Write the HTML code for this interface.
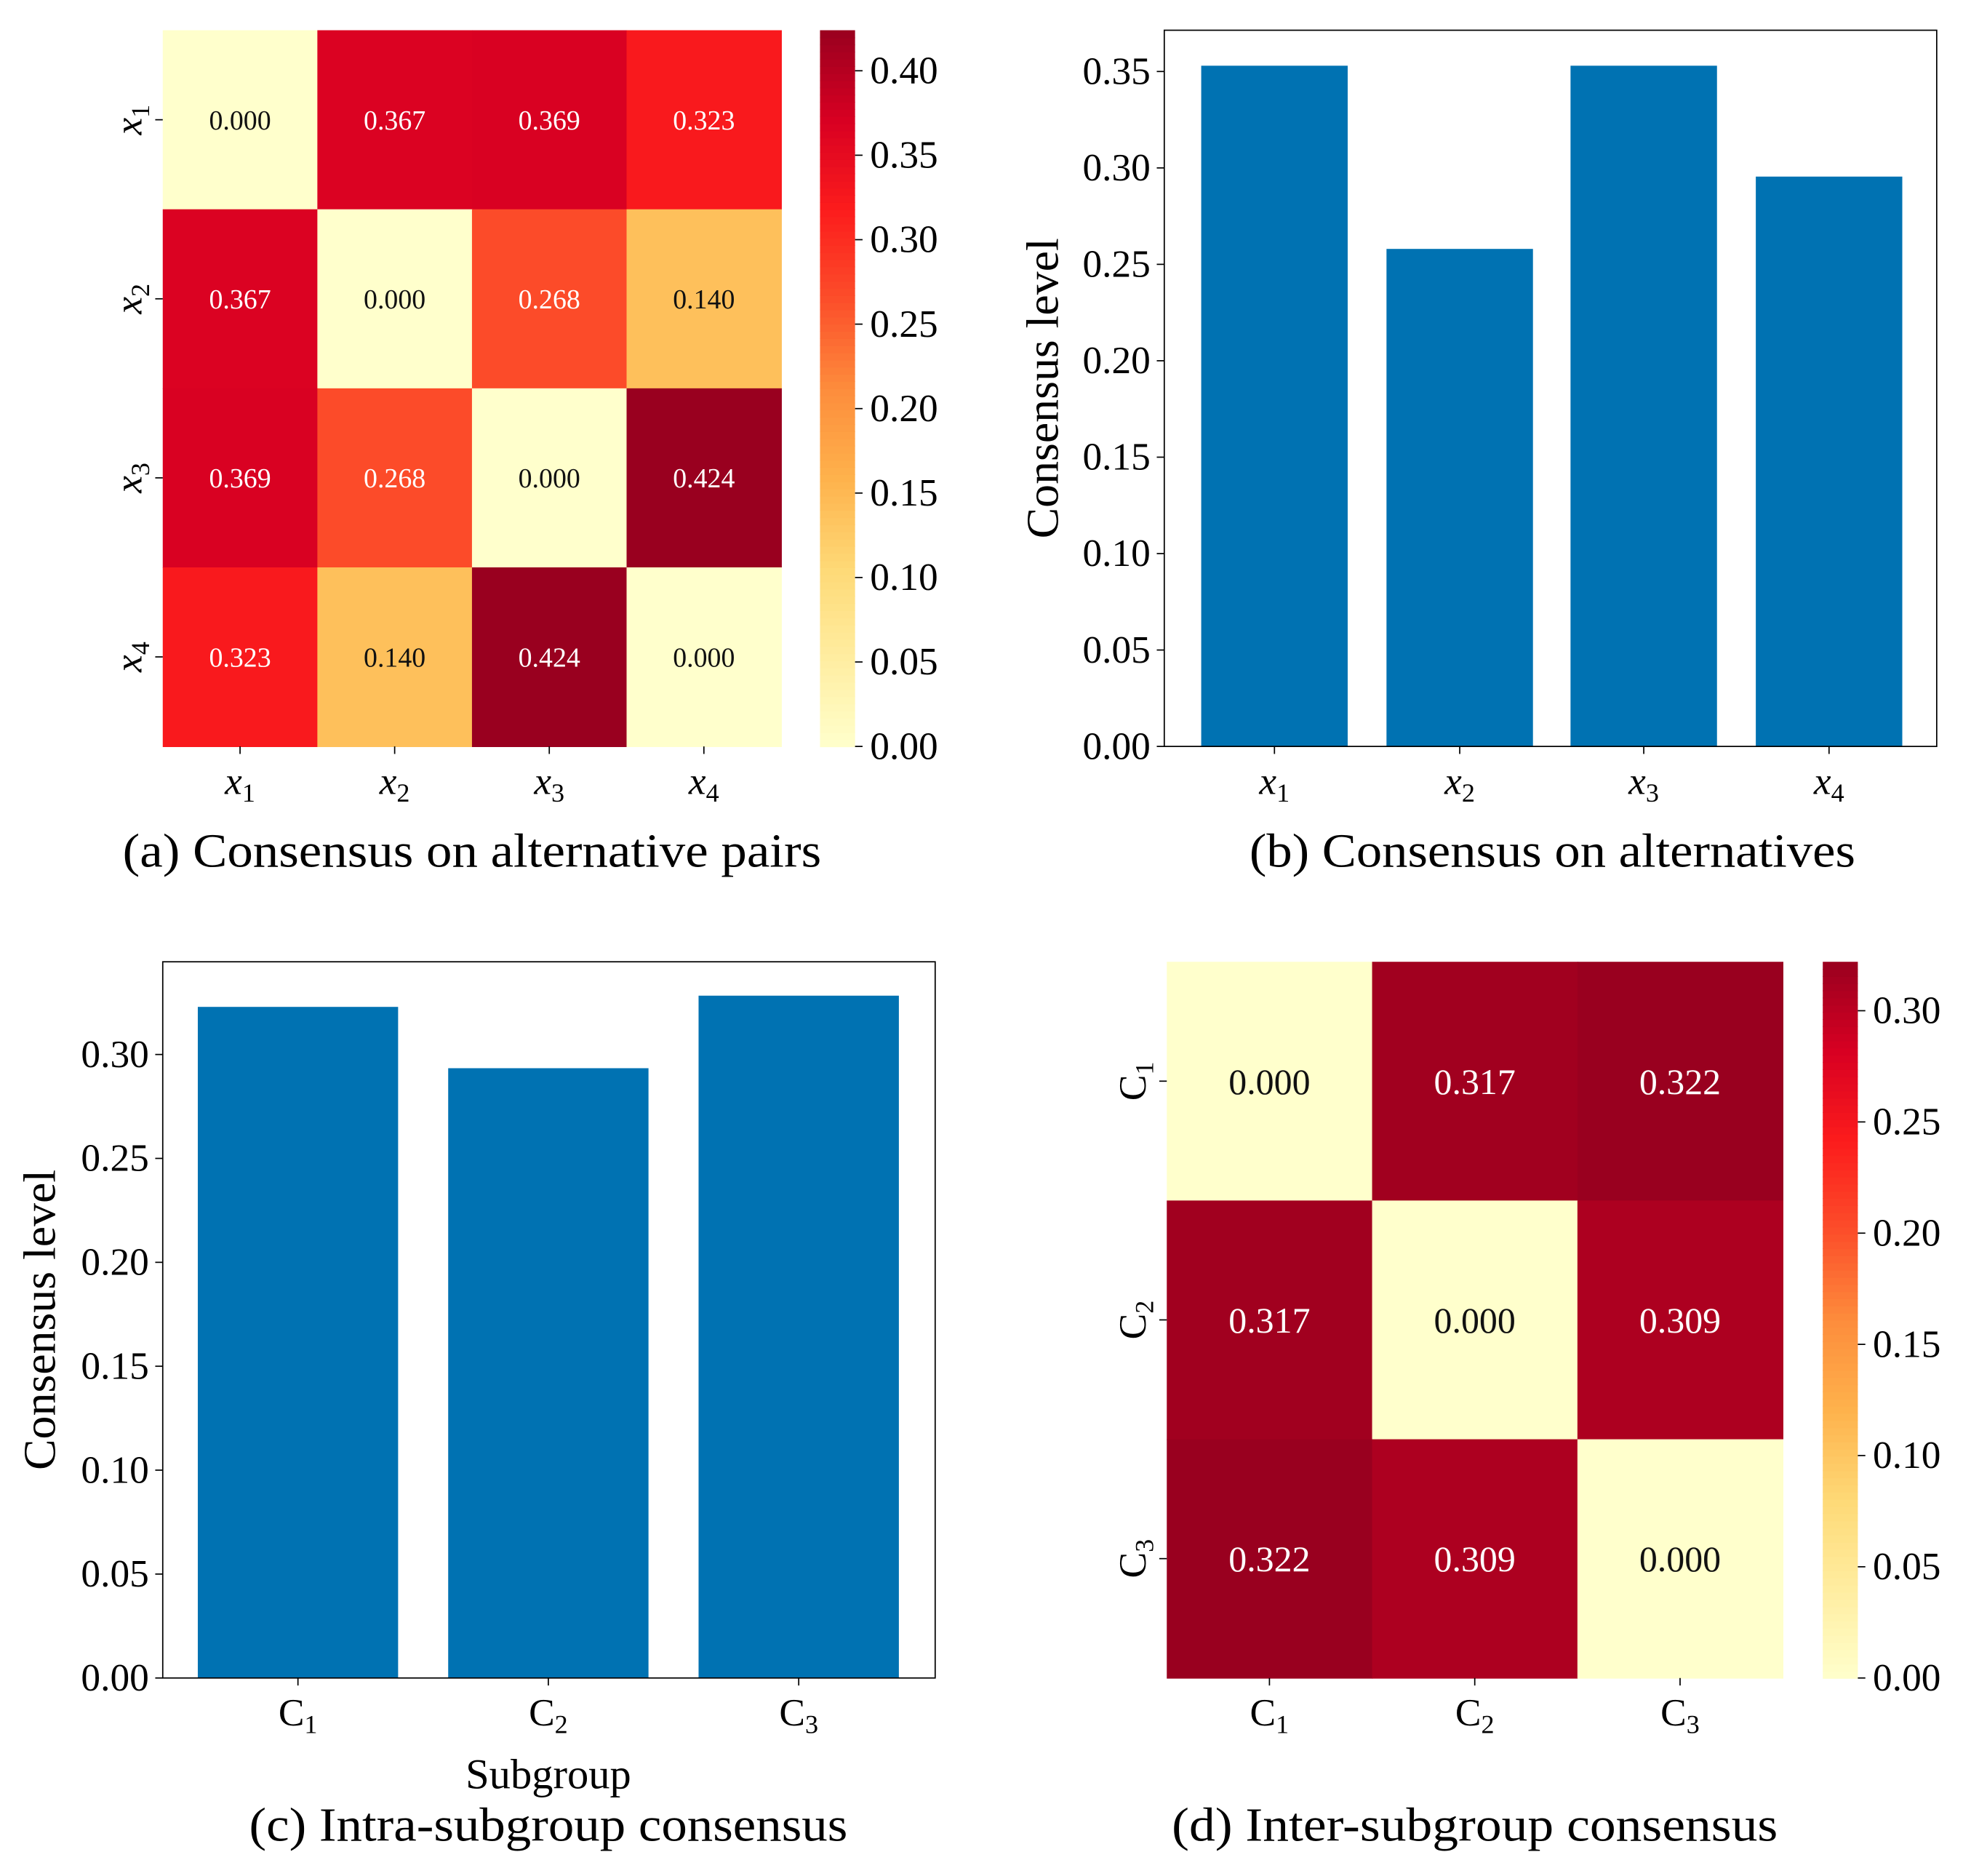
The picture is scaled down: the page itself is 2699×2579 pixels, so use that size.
<!DOCTYPE html>
<html><head><meta charset="utf-8"><style>
html,body{margin:0;padding:0;background:#fff}
svg{display:block;font-family:"Liberation Serif",serif}
</style></head><body>
<svg id="fig" width="2699" height="2579" viewBox="0 0 1568 1498" xmlns="http://www.w3.org/2000/svg"></svg>
<script>
const altLabels = ['1','2','3','4'];
const pairMatrix = [[0.000,0.367,0.369,0.323],[0.367,0.000,0.268,0.140],[0.369,0.268,0.000,0.424],[0.323,0.140,0.424,0.000]];
const altConsensus = [0.353,0.258,0.353,0.2955];
const subLabels = ['1','2','3'];
const subConsensus = [0.3229,0.2934,0.3283];
const interMatrix = [[0.000,0.317,0.322],[0.317,0.000,0.309],[0.322,0.309,0.000]];
const ticksA = [0,0.05,0.10,0.15,0.20,0.25,0.30,0.35,0.40];
const ticksB = [0,0.05,0.10,0.15,0.20,0.25,0.30,0.35];
const ticksC = [0,0.05,0.10,0.15,0.20,0.25,0.30];
const ticksD = [0,0.05,0.10,0.15,0.20,0.25,0.30];

const NS='http://www.w3.org/2000/svg';
const svg=document.getElementById('fig');
function mk(tag,attrs,parent,text){const e=document.createElementNS(NS,tag);for(const k in attrs)e.setAttribute(k,attrs[k]);if(text!==undefined)e.textContent=text;(parent||svg).appendChild(e);return e;}
const cmapStops=['#ffffcc','#ffeda0','#fed976','#feb24c','#fd8d3c','#fc4e2a','#fc1c1c','#d80022','#99001f'];
function hex(h){return [parseInt(h.slice(1,3),16),parseInt(h.slice(3,5),16),parseInt(h.slice(5,7),16)];}
function cmap(t){t=Math.max(0,Math.min(1,t));const p=t*(cmapStops.length-1);const i=Math.min(Math.floor(p),cmapStops.length-2);const f=p-i;const a=hex(cmapStops[i]),b=hex(cmapStops[i+1]);return 'rgb('+a.map((v,k)=>Math.round(v+(b[k]-v)*f)).join(',')+')';}
function lum(t){const c=cmap(t).match(/\d+/g).map(Number);return 0.299*c[0]+0.587*c[1]+0.114*c[2];}

function heatmap(opts){
  const {x0,y0,w,h,m,vmax,labels,prefix,italic,fs,cbx,ticks,name}=opts;
  const g=mk('g',{},svg);
  
  
  const n=m.length,cw=w/n,ch=h/n;
  const yS=v=>y0+h-v/vmax*h;
  m.forEach((row,i)=>row.forEach((v,j)=>{
    const r=mk('rect',{x:x0+j*cw,y:y0+i*ch,width:cw+0.5,height:ch+0.5,fill:cmap(v/vmax)},g);
    
    
    const t=mk('text',{x:x0+j*cw+cw/2,y:y0+i*ch+ch/2+fs*0.35,'text-anchor':'middle','font-size':fs,fill:lum(v/vmax)<150?'#fff':'#111'},g,v.toFixed(3));
    
    
  }));
  labels.forEach((l,i)=>{
    const cx=x0+i*cw+cw/2, cy=y0+i*ch+ch/2;
    mk('line',{x1:cx,y1:y0+h,x2:cx,y2:y0+h+6,stroke:'#000','stroke-width':1},g);
    const tx=mk('text',{x:cx,y:y0+h+38,'text-anchor':'middle','font-size':31,'font-style':italic?'italic':'normal'},g);
    
    
    tx.textContent=prefix;mk('tspan',{'font-size':21,dy:6,'font-style':'normal'},tx,l);
    mk('line',{x1:x0-6,y1:cy,x2:x0,y2:cy,stroke:'#000','stroke-width':1},g);
    const ty=mk('text',{x:0,y:0,'text-anchor':'middle','font-size':31,'font-style':italic?'italic':'normal',transform:`translate(${x0-17},${cy}) rotate(-90)`},g);
    
    
    ty.textContent=prefix;mk('tspan',{'font-size':21,dy:6,'font-style':'normal'},ty,l);
  });
  const cb=mk('g',{},g);
  
  
  const steps=100;
  for(let k=0;k<steps;k++){mk('rect',{x:cbx,y:y0+h-(k+1)*h/steps,width:28,height:h/steps+0.6,fill:cmap((k+0.5)/steps)},cb);}
  ticks.forEach(v=>{const y=yS(v);mk('line',{x1:cbx+28,y1:y,x2:cbx+34,y2:y,stroke:'#000','stroke-width':1},cb);
    const t=mk('text',{x:cbx+40,y:y+10,'font-size':31},cb,v.toFixed(2));
    
    });
}

function barchart(opts){
  const {x0,y0,w,h,vals,ymax,ticks,centers,bw,labels,prefix,italic,name}=opts;
  const g=mk('g',{},svg);
  
  
  const yS=v=>y0+h-v/ymax*h;
  vals.forEach((v,i)=>{const r=mk('rect',{x:centers[i]-bw/2,y:yS(v),width:bw,height:y0+h-yS(v),fill:'#0072b2'},g);
    
    });
  mk('rect',{x:x0,y:y0,width:w,height:h,fill:'none',stroke:'#000','stroke-width':1},g);
  ticks.forEach(v=>{const y=yS(v);mk('line',{x1:x0-6,y1:y,x2:x0,y2:y,stroke:'#000','stroke-width':1},g);
    const t=mk('text',{x:x0-11,y:y+10,'text-anchor':'end','font-size':31},g,v.toFixed(2));
    
    });
  labels.forEach((l,i)=>{mk('line',{x1:centers[i],y1:y0+h,x2:centers[i],y2:y0+h+6,stroke:'#000','stroke-width':1},g);
    const tx=mk('text',{x:centers[i],y:y0+h+38,'text-anchor':'middle','font-size':31,'font-style':italic?'italic':'normal'},g);
    
    
    tx.textContent=prefix;mk('tspan',{'font-size':21,dy:6,'font-style':'normal'},tx,l);});
}
function caption(x,y,s,len,name){const t=mk('text',{x,y,'text-anchor':'middle','font-size':38,textLength:len,lengthAdjust:'spacingAndGlyphs'},svg,s);
  
  }

heatmap({x0:130,y0:24,w:494,h:572,m:pairMatrix,vmax:0.424,labels:altLabels,prefix:'x',italic:true,fs:22,cbx:655,ticks:ticksA,name:'heatmap-alternative-pairs'});
caption(377,692,'(a) Consensus on alternative pairs',558,'caption-a');

barchart({x0:930,y0:24,w:617,h:572,vals:altConsensus,ymax:0.3714,ticks:ticksB,centers:[1018,1166,1313,1461],bw:117,labels:altLabels,prefix:'x',italic:true,name:'bar-chart-alternatives'});
let yl=mk('text',{'text-anchor':'middle','font-size':36,textLength:240,lengthAdjust:'spacingAndGlyphs',transform:'translate(845,310) rotate(-90)'},svg,'Consensus level');


caption(1240,692,'(b) Consensus on alternatives',484,'caption-b');

barchart({x0:130,y0:768,w:617,h:572,vals:subConsensus,ymax:0.3446,ticks:ticksC,centers:[238,438,638],bw:160,labels:subLabels,prefix:'C',italic:false,name:'bar-chart-subgroups'});
yl=mk('text',{'text-anchor':'middle','font-size':36,textLength:240,lengthAdjust:'spacingAndGlyphs',transform:'translate(44,1054) rotate(-90)'},svg,'Consensus level');


const xl=mk('text',{x:438,y:1428,'text-anchor':'middle','font-size':34},svg,'Subgroup');


caption(438,1470,'(c) Intra-subgroup consensus',478,'caption-c');

heatmap({x0:932,y0:768,w:492,h:572,m:interMatrix,vmax:0.322,labels:subLabels,prefix:'C',italic:false,fs:29,cbx:1456,ticks:ticksD,name:'heatmap-inter-subgroup'});
caption(1178,1470,'(d) Inter-subgroup consensus',484,'caption-d');
</script>
</body></html>
